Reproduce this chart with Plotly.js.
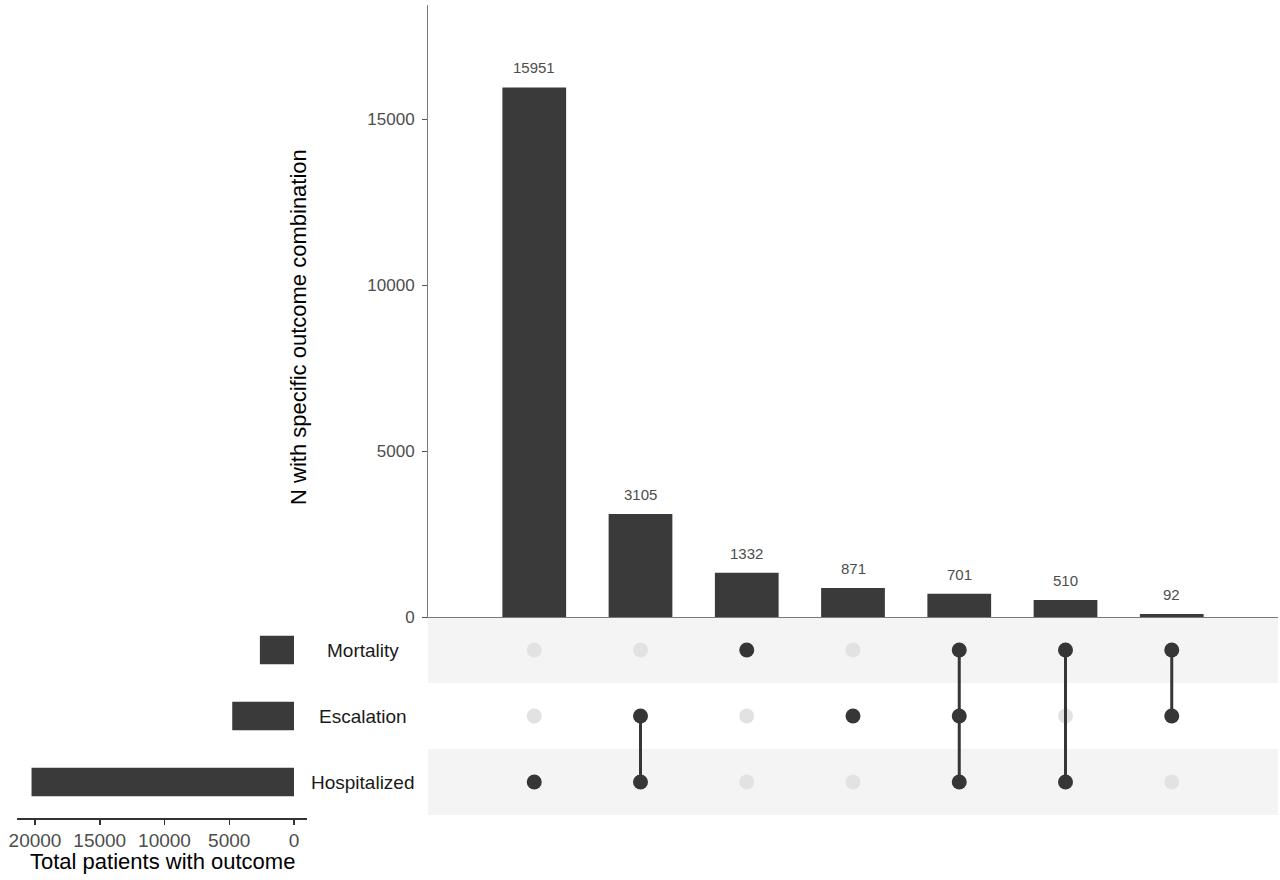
<!DOCTYPE html>
<html>
<head>
<meta charset="utf-8">
<script src="https://cdn.plot.ly/plotly-3.0.1.min.js"></script>
<style>html,body{margin:0;padding:0;background:#fff;}#chart{width:1280px;height:880px;}</style>
</head>
<body>
<div id="chart"></div>
<script>
// ---- data ----
const combos = ["Hospitalized", "Hospitalized & Escalation", "Mortality", "Escalation",
  "Hospitalized & Escalation & Mortality", "Hospitalized & Mortality", "Escalation & Mortality"];
const counts = [15951, 3105, 1332, 871, 701, 510, 92];
const sets = ["Hospitalized", "Escalation", "Mortality"];
const setTotals = [20267, 4769, 2635];
// membership[combo][set] in order of `sets`
const membership = [
  [1, 0, 0],
  [1, 1, 0],
  [0, 0, 1],
  [0, 1, 0],
  [1, 1, 1],
  [1, 0, 1],
  [0, 1, 1]
];
const mainTicks = [0, 5000, 10000, 15000];
const setTicks = [0, 5000, 10000, 15000, 20000];

// ---- styles ----
const dark = "#3a3a3a";
const dotDark = "#363636";
const dotLight = "#e2e2e2";
const tickCol = "#4d4d4d";
const FONT = "Liberation Sans, Arial, sans-serif";

// ---- build matrix traces ----
const offX = [], offY = [], onX = [], onY = [], lineX = [], lineY = [];
membership.forEach((m, ci) => {
  const active = [];
  m.forEach((v, si) => {
    if (v) { onX.push(combos[ci]); onY.push(sets[si]); active.push(si); }
    else { offX.push(combos[ci]); offY.push(sets[si]); }
  });
  if (active.length > 1) {
    lineX.push(combos[ci], combos[ci], null);
    lineY.push(sets[Math.min(...active)], sets[Math.max(...active)], null);
  }
});

const traces = [
  { type: "bar", x: combos, y: counts, xaxis: "x", yaxis: "y",
    marker: { color: dark }, width: 0.6, hoverinfo: "x+y" },
  { type: "scatter", mode: "markers", x: offX, y: offY, xaxis: "x2", yaxis: "y2",
    marker: { color: dotLight, size: 15 }, hoverinfo: "skip" },
  { type: "scatter", mode: "lines", x: lineX, y: lineY, xaxis: "x2", yaxis: "y2",
    line: { color: dotDark, width: 3 }, connectgaps: false, hoverinfo: "skip" },
  { type: "scatter", mode: "markers", x: onX, y: onY, xaxis: "x2", yaxis: "y2",
    marker: { color: dotDark, size: 15 }, hoverinfo: "skip" },
  { type: "bar", orientation: "h", x: setTotals, y: sets, xaxis: "x3", yaxis: "y3",
    marker: { color: dark }, width: 0.43, hoverinfo: "x+y" }
];

const W = 1280, H = 880;
const px = v => v / W, py = v => 1 - v / H;

const annotations = [];
counts.forEach((c, i) => {
  annotations.push({ x: combos[i], y: c, xref: "x", yref: "y", text: String(c),
    showarrow: false, yanchor: "bottom", yshift: 9,
    font: { family: FONT, size: 15, color: tickCol } });
});
sets.forEach(s => {
  annotations.push({ x: px(363), xref: "paper", y: s, yref: "y2", text: s,
    showarrow: false, xanchor: "center", yanchor: "middle",
    font: { family: FONT, size: 19, color: "#1a1a1a" } });
});
annotations.push({ x: px(298), y: py(327), xref: "paper", yref: "paper",
  text: "N with specific outcome combination", textangle: -90, showarrow: false,
  xanchor: "center", yanchor: "middle", font: { family: FONT, size: 22, color: "#000" } });
annotations.push({ x: px(162), y: py(861), xref: "paper", yref: "paper",
  text: "Total patients with outcome", showarrow: false,
  xanchor: "center", yanchor: "middle", font: { family: FONT, size: 22, color: "#000" } });

const shapes = [];
sets.forEach((s, i) => {
  if (i % 2 === 0) {
    shapes.push({ type: "rect", xref: "x2 domain", yref: "y2", x0: 0, x1: 1,
      y0: i - 0.5, y1: i + 0.5, fillcolor: "#f4f4f4", line: { width: 0 }, layer: "below" });
  }
});

const layout = {
  width: W, height: H,
  margin: { l: 0, r: 0, t: 0, b: 0 },
  paper_bgcolor: "#fff", plot_bgcolor: "rgba(0,0,0,0)",
  showlegend: false,
  font: { family: FONT, color: tickCol },
  xaxis: { domain: [px(428), px(1278)], anchor: "y", type: "category",
    categoryarray: combos, categoryorder: "array", range: [-1, 7],
    showline: true, linecolor: "#7a7a7a", linewidth: 1, ticks: "",
    showticklabels: false, showgrid: false, zeroline: false, fixedrange: true },
  yaxis: { domain: [py(617), py(5)], anchor: "x", range: [0, 18434],
    tickvals: mainTicks, ticktext: mainTicks.map(String), ticks: "outside", ticklen: 5,
    tickcolor: "#555", tickwidth: 1, ticklabelstandoff: 4,
    showline: true, linecolor: "#7a7a7a", linewidth: 1,
    showgrid: false, zeroline: false, tickfont: { family: FONT, size: 17, color: tickCol } },
  xaxis2: { domain: [px(428), px(1278)], anchor: "y2", type: "category",
    categoryarray: combos, categoryorder: "array", range: [-1, 7],
    visible: false, showgrid: false, zeroline: false },
  yaxis2: { domain: [py(815), py(617)], anchor: "x2", type: "category",
    categoryarray: sets, categoryorder: "array", range: [-0.5, 2.5],
    visible: false, showgrid: false, zeroline: false },
  xaxis3: { domain: [px(17), px(307)], anchor: "free", position: py(818),
    range: [21390, -1004], tickvals: setTicks, ticktext: setTicks.map(String),
    ticks: "outside", ticklen: 5, tickcolor: "#333", tickwidth: 1.5,
    showline: true, linecolor: "#333", linewidth: 1.5,
    showgrid: false, zeroline: false, tickfont: { family: FONT, size: 19, color: tickCol } },
  yaxis3: { domain: [py(815), py(617)], anchor: "x3", type: "category",
    categoryarray: sets, categoryorder: "array", range: [-0.5, 2.5],
    visible: false, showgrid: false, zeroline: false },
  annotations: annotations,
  shapes: shapes
};

Plotly.newPlot("chart", traces, layout, { displayModeBar: false, staticPlot: true });
</script>
</body>
</html>
